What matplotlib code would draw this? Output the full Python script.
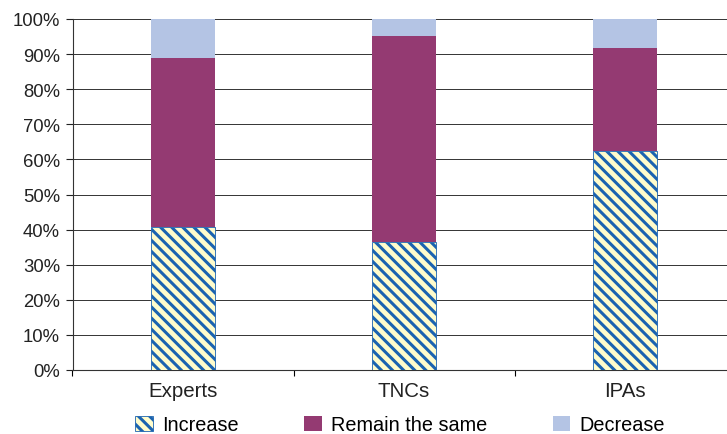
import matplotlib.pyplot as plt
import numpy as np

plt.rcParams['font.family'] = ['Liberation Sans', 'DejaVu Sans']
plt.rcParams['hatch.color'] = '#1B63B0'
plt.rcParams['hatch.linewidth'] = 2.2

groups = ['Experts', 'TNCs', 'IPAs']
increase = np.array([40.7, 36.6, 62.5])
remain = np.array([48.1, 58.5, 29.2])
decrease = np.array([11.1, 4.9, 8.3])

fig = plt.figure(figsize=(7.27, 4.35), dpi=100)
ax = fig.add_axes([72.5 / 727, 1 - 371 / 435, 663 / 727, 351 / 435])

x = np.arange(len(groups))
w = 0.29
ax.bar(x, increase, w, color='#FFFCCC', edgecolor='#1B63B0', linewidth=0.6,
       hatch='\\\\\\', label='Increase', zorder=3)
ax.bar(x, remain, w, bottom=increase, color='#943A72', label='Remain the same', zorder=3)
ax.bar(x, decrease, w, bottom=increase + remain, color='#B4C4E4', label='Decrease', zorder=3)

ax.set_xlim(-0.5, 2.5)
ax.set_ylim(0, 100)
ax.set_yticks(np.arange(0, 101, 10))
ax.set_yticklabels([f'{v}%' for v in range(0, 101, 10)])
ax.yaxis.grid(True, color='#333333', linewidth=0.7)
ax.set_axisbelow(True)

ax.set_xticks(x)
ax.set_xticklabels(groups)
ax.set_xticks([-0.5, 0.5, 1.5, 2.5], minor=True)
ax.tick_params(axis='x', which='major', length=0, pad=8, labelsize=14.8, colors='#222222')
ax.tick_params(axis='x', which='minor', length=4, width=0.8, direction='out')
ax.tick_params(axis='y', length=5, width=0.8, direction='out', labelsize=13.3,
               pad=4, colors='#222222')

for s in ['top', 'right']:
    ax.spines[s].set_visible(False)
ax.spines['left'].set_color('#333333')
ax.spines['bottom'].set_color('#333333')
ax.spines['left'].set_linewidth(0.8)
ax.spines['bottom'].set_linewidth(0.8)

fig.legend(loc='center left', bbox_to_anchor=(135 / 727, 1 - 426 / 435), ncol=3,
           frameon=False, fontsize=14.3, handlelength=0.9, handleheight=0.8,
           handletextpad=0.45, columnspacing=3.3, borderaxespad=0, borderpad=0)

fig.savefig('out.png', dpi=100)
